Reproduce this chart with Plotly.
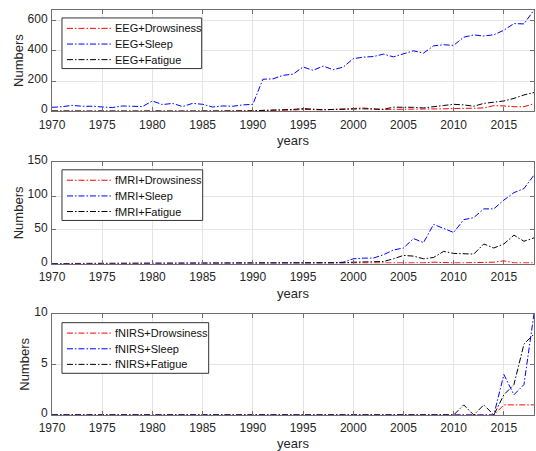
import plotly.graph_objects as go

# Publication counts per year for three modalities x three topics
years = list(range(1970, 2019))

eeg_drowsiness = [1, 0, 1, 0, 1, 0, 0, 1, 0, 1,
                  1, 0, 1, 0, 0, 1, 0, 1, 0, 1,
                  2, 5, 6, 5, 8, 12, 8, 9, 12, 13,
                  18, 22, 14, 12, 14, 13, 14, 15, 18, 16,
                  18, 17, 20, 22, 37, 35, 30, 30, 50]
eeg_sleep = [26, 30, 39, 33, 33, 30, 24, 35, 31, 31,
             68, 44, 52, 31, 52, 46, 28, 35, 33, 42,
             46, 212, 214, 238, 245, 293, 271, 299, 275, 292,
             348, 358, 362, 378, 360, 378, 400, 385, 433, 440,
             436, 490, 505, 498, 506, 536, 580, 578, 670]
eeg_fatigue = [2, 1, 2, 1, 1, 2, 1, 1, 2, 1,
               2, 1, 1, 2, 1, 2, 1, 1, 2, 1,
               2, 6, 8, 9, 12, 18, 14, 10, 12, 14,
               18, 16, 15, 13, 27, 29, 26, 22, 28, 38,
               46, 42, 33, 52, 60, 68, 85, 108, 124]

fmri_drowsiness = [0] * 27 + [0, 1, 0,
                              1, 1, 0, 1, 0, 1, 1, 1, 2, 1,
                              1, 1, 1, 2, 2, 4, 1, 1, 1]
fmri_sleep = [0] * 20 + [0, 0, 0, 0, 0, 0, 0, 1, 1, 2,
                         7, 8, 8, 13, 20, 23, 37, 31, 58, 52,
                         46, 65, 68, 81, 81, 94, 105, 111, 131]
fmri_fatigue = [0] * 25 + [0, 0, 1, 1, 1,
                           2, 2, 3, 3, 7, 12, 11, 7, 9, 18,
                           15, 14, 14, 29, 23, 29, 42, 33, 38]

fnirs_drowsiness = [0] * 45 + [1, 1, 1, 1]
fnirs_sleep = [0] * 45 + [4, 2, 3, 10]
fnirs_fatigue = [0] * 41 + [1, 0, 1, 0, 2, 3, 7, 8]

modalities = ["EEG", "fMRI", "fNIRS"]
topics = ["Drowsiness", "Sleep", "Fatigue"]
series = [
    [eeg_drowsiness, eeg_sleep, eeg_fatigue],
    [fmri_drowsiness, fmri_sleep, fmri_fatigue],
    [fnirs_drowsiness, fnirs_sleep, fnirs_fatigue],
]
y_ranges = [[0, 670], [0, 150], [0, 10]]
y_ticks = [[0, 200, 400, 600], [0, 50, 100, 150], [0, 5, 10]]
x_ticks = list(range(1970, 2016, 5))

colors = ["#ff0000", "#0000ff", "#000000"]
DASH = "6px,2px,1.5px,2px"
FONT = "Liberation Sans, Arial, sans-serif"
TEXT = "#262626"
FRAME = "#6e6e6e"
GRID = "#e4e4e4"

# Figure geometry in pixels
W, H = 536, 451
ML, MR, MT, MB = 52, 1, 7, 36
PW, PH = W - ML - MR, H - MT - MB


def px_x(px):
    return (px - ML) / PW


def px_y(py):
    return (H - MB - py) / PH


# vertical placement of the three panels (paper fractions)
domains = [[0.75, 1.0], [0.374, 0.624], [0.0, 0.25]]
# boxed legend per panel: left, top, right (pixels)
legend_boxes = [(62, 15, 202), (62, 168, 203), (62, 322, 209)]
row_offsets = [10.5, 26.3, 42.0]
legend_height = 51

fig = go.Figure()
shapes, annotations = [], []

for i, (mod, vals) in enumerate(zip(modalities, series)):
    ax = "" if i == 0 else str(i + 1)
    for topic, data, col in zip(topics, vals, colors):
        fig.add_trace(go.Scatter(
            x=years, y=data, mode="lines",
            name=f"{mod}+{topic}", showlegend=False,
            line=dict(color=col, width=1, dash=DASH),
            xaxis="x" + ax, yaxis="y" + ax,
        ))

    axis_common = dict(
        showline=True, linecolor=FRAME, linewidth=1, mirror="ticks",
        ticks="inside", ticklen=4, tickcolor=FRAME, tickwidth=1,
        showgrid=True, gridcolor=GRID, gridwidth=1, zeroline=False,
        tickfont=dict(family=FONT, size=12, color=TEXT),
    )
    fig.update_layout(**{
        "xaxis" + ax: dict(
            axis_common, domain=[0, 1], range=[1970, 2018],
            tickvals=x_ticks, anchor="y" + ax, ticklabelstandoff=2,
            title=dict(text="years", standoff=5,
                       font=dict(family=FONT, size=13, color=TEXT)),
        ),
        "yaxis" + ax: dict(
            axis_common, domain=domains[i], range=y_ranges[i],
            tickvals=y_ticks[i], anchor="x" + ax,
            ticklabelshift=-2, ticklabelstandoff=1,
            title=dict(text="Numbers", standoff=1,
                       font=dict(family=FONT, size=13, color=TEXT)),
        ),
    })

    # legend box with line samples and labels
    left, top, right = legend_boxes[i]
    shapes.append(dict(
        type="rect", xref="paper", yref="paper",
        x0=px_x(left), x1=px_x(right),
        y0=px_y(top + legend_height), y1=px_y(top),
        line=dict(color="#333333", width=1), fillcolor="white",
        layer="above",
    ))
    for topic, col, off in zip(topics, colors, row_offsets):
        yy = px_y(top + off)
        shapes.append(dict(
            type="line", xref="paper", yref="paper",
            x0=px_x(67), x1=px_x(111), y0=yy, y1=yy,
            line=dict(color=col, width=1, dash=DASH), layer="above",
        ))
        annotations.append(dict(
            xref="paper", yref="paper", x=px_x(113), y=yy,
            xanchor="left", yanchor="middle", showarrow=False,
            text=f"{mod}+{topic}",
            font=dict(family=FONT, size=11, color="#111111"),
        ))

fig.update_layout(
    width=W, height=H,
    margin=dict(l=ML, r=MR, t=MT, b=MB),
    paper_bgcolor="white", plot_bgcolor="white",
    font=dict(family=FONT, color=TEXT),
    showlegend=False,
    shapes=shapes, annotations=annotations,
)

fig.write_html("out.html")
